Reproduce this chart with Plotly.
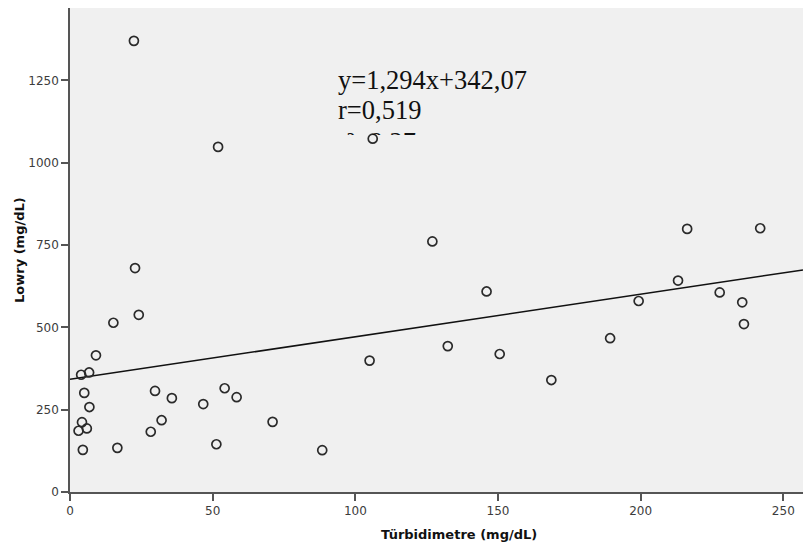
import plotly.graph_objects as go

# Data
turbidimetre = [22.4, 51.9, 106.1, 22.8, 15.2, 24.1, 9.1, 3.9, 6.7, 5.0,
                6.8, 4.2, 3.0, 5.9, 4.5, 16.6, 29.8, 35.7, 46.7, 32.1,
                28.3, 54.2, 58.4, 51.3, 71.0, 88.4, 105.0, 127.0, 146.0, 132.4,
                150.6, 168.7, 216.3, 241.9, 213.1, 199.3, 227.7, 235.6, 236.2, 189.3]
lowry = [1370, 1048, 1073, 680, 514, 538, 415, 356, 363, 301,
         258, 212, 186, 193, 128, 134, 307, 285, 267, 218,
         183, 315, 288, 145, 213, 127, 399, 761, 609, 443,
         419, 340, 799, 801, 642, 580, 606, 576, 510, 467]

slope = 1.294
intercept = 342.07
x_range = [0, 256.9]
y_range = [0, 1469.8]
x_ticks = [0, 50, 100, 150, 200, 250]
y_ticks = [0, 250, 500, 750, 1000, 1250]
eq_lines = ["y=1,294x+342,07", "r=0,519", "r²=0,27"]

fit_x = [x_range[0], x_range[1]]
fit_y = [slope * v + intercept for v in fit_x]

fig = go.Figure()
fig.add_trace(go.Scatter(x=fit_x, y=fit_y, mode="lines",
                         line=dict(color="#111111", width=1.5),
                         hoverinfo="skip", showlegend=False))
fig.add_trace(go.Scatter(x=turbidimetre, y=lowry, mode="markers",
                         marker=dict(symbol="circle-open", size=9,
                                     color="#2a2a2a", line=dict(width=1.7)),
                         showlegend=False))

axis_font = dict(family="DejaVu Sans", size=12, color="#3c3c3c")
fig.update_xaxes(range=x_range, tickvals=x_ticks, ticks="outside", ticklen=7,
                 tickcolor="#555555", tickwidth=1.5, showgrid=False, zeroline=False,
                 showline=True, linecolor="#555555", linewidth=1.5, mirror=True,
                 tickfont=axis_font)
fig.update_yaxes(range=y_range, tickvals=y_ticks, ticks="outside", ticklen=7,
                 tickcolor="#555555", tickwidth=1.5, showgrid=False, zeroline=False,
                 showline=True, linecolor="#555555", linewidth=1.5,
                 tickfont=axis_font)

serif = dict(family="Liberation Serif", size=26.5, color="#111111")
fig.add_annotation(text=eq_lines[0], xref="paper", yref="paper", x=0.3629, y=0.8864,
                   xanchor="left", yanchor="top", showarrow=False, font=serif)
fig.add_annotation(text=eq_lines[1], xref="paper", yref="paper", x=0.3629, y=0.8244,
                   xanchor="left", yanchor="top", showarrow=False, font=serif)
fig.add_annotation(text=eq_lines[2], xref="paper", yref="paper", x=0.3629, y=0.7583,
                   xanchor="left", yanchor="top", showarrow=False, font=serif,
                   height=8, valign="top")

title_font = dict(family="DejaVu Sans", size=13, color="#111111")
fig.add_annotation(text="<b>Türbidimetre (mg/dL)</b>", xref="paper", yref="paper",
                   x=0.5307, y=-0.0888, xanchor="center", yanchor="middle",
                   showarrow=False, font=title_font)
fig.add_annotation(text="<b>Lowry (mg/dL)</b>", xref="paper", yref="paper",
                   x=-0.0696, y=0.5, xanchor="center", yanchor="middle",
                   textangle=-90, showarrow=False, font=title_font)

# page body has an 8px default margin; size the figure to fit inside it
fig.update_layout(width=795, height=536,
                  margin=dict(l=62, r=0, t=0, b=52, autoexpand=False),
                  plot_bgcolor="#F0F0F0", paper_bgcolor="white")

fig.write_html("out.html")
